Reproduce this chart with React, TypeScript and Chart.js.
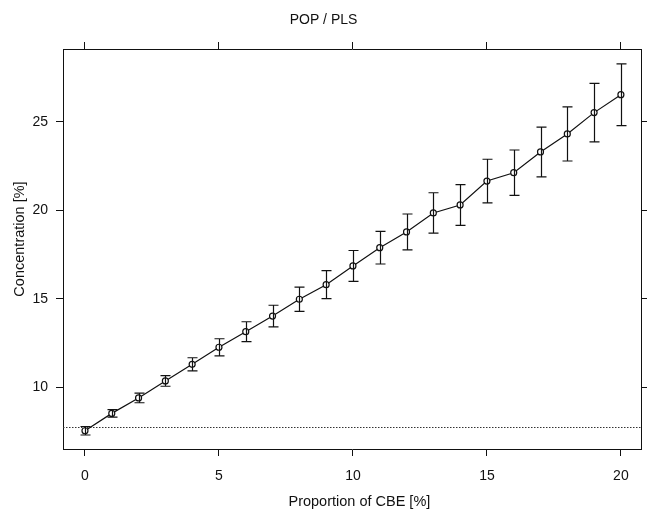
import React, { useEffect, useRef } from 'react';
import { Chart, registerables } from 'chart.js';

Chart.register(...registerables);

const proportions = [0, 1, 2, 3, 4, 5, 6, 7, 8, 9, 10, 11, 12, 13, 14, 15, 16, 17, 18, 19, 20];
const concentration = [7.56, 8.54, 9.41, 10.37, 11.31, 12.27, 13.15, 14.03, 14.98, 15.8, 16.86, 17.89, 18.78, 19.85, 20.3, 21.65, 22.12, 23.29, 24.31, 25.51, 26.52];
const errorHalf = [0.24, 0.21, 0.27, 0.3, 0.37, 0.48, 0.56, 0.61, 0.68, 0.79, 0.87, 0.92, 1.01, 1.14, 1.15, 1.23, 1.28, 1.4, 1.53, 1.65, 1.74];
const referenceLevel = 7.79;
const xTicks = [0, 5, 10, 15, 20];
const yTicks = [10, 15, 20, 25];
const xTitle = 'Proportion of CBE [%]';
const yTitle = 'Concentration [%]';
const mainTitle = 'POP / PLS';

const FAMILY = '"Liberation Sans", Arial, Helvetica, sans-serif';
const FONT = { family: FAMILY, size: 14, weight: 'normal' as const };
const INK = '#111';

const errorBarPlugin = {
  id: 'errorBars',
  beforeDatasetsDraw(chart: any) {
    const { ctx, chartArea, scales } = chart;
    const y = scales.y.getPixelForValue(referenceLevel);
    ctx.save();
    ctx.strokeStyle = '#333';
    ctx.lineWidth = 1;
    ctx.setLineDash([1.5, 1.5]);
    ctx.beginPath();
    ctx.moveTo(chartArea.left, Math.round(y) + 0.5);
    ctx.lineTo(chartArea.right, Math.round(y) + 0.5);
    ctx.stroke();
    ctx.restore();
  },
  afterDatasetsDraw(chart: any) {
    const { ctx, scales } = chart;
    ctx.save();
    ctx.strokeStyle = INK;
    ctx.lineWidth = 1.2;
    ctx.setLineDash([]);
    proportions.forEach((p, i) => {
      const x = Math.round(scales.x.getPixelForValue(p)) + 0.5;
      const yHi = scales.y.getPixelForValue(concentration[i] + errorHalf[i]);
      const yLo = scales.y.getPixelForValue(concentration[i] - errorHalf[i]);
      ctx.beginPath();
      ctx.moveTo(x, yHi);
      ctx.lineTo(x, yLo);
      ctx.moveTo(x - 5, yHi);
      ctx.lineTo(x + 5, yHi);
      ctx.moveTo(x - 5, yLo);
      ctx.lineTo(x + 5, yLo);
      ctx.stroke();
    });
    ctx.restore();
  },
};

const axisTitlePlugin = {
  id: 'axisTitles',
  afterDraw(chart: any) {
    const { ctx, chartArea } = chart;
    ctx.save();
    ctx.fillStyle = INK;
    ctx.font = `14.5px ${FAMILY}`;
    ctx.textAlign = 'center';
    ctx.textBaseline = 'middle';
    const cx = (chartArea.left + chartArea.right) / 2;
    ctx.fillText(xTitle, cx + 7, chartArea.bottom + 53);
    const cy = (chartArea.top + chartArea.bottom) / 2;
    ctx.translate(20, cy - 10);
    ctx.rotate(-Math.PI / 2);
    ctx.fillText(yTitle, 0, 0);
    ctx.restore();
  },
};

const gridOpts = {
  drawOnChartArea: false,
  drawTicks: true,
  tickLength: 7,
  tickColor: INK,
  tickWidth: 1,
};
const borderOpts = { display: true, color: INK, width: 1 };

export default function App() {
  const canvasRef = useRef<HTMLCanvasElement | null>(null);

  useEffect(() => {
    document.body.style.margin = '0';
    const canvas = canvasRef.current;
    if (!canvas) return;
    const setX = (s: any) => {
      s.ticks = xTicks.map((v) => ({ value: v }));
    };
    const setY = (s: any) => {
      s.ticks = yTicks.map((v) => ({ value: v }));
    };
    const chart = new Chart(canvas, {
      type: 'line',
      data: {
        datasets: [
          {
            data: proportions.map((p, i) => ({ x: p, y: concentration[i] })),
            borderColor: INK,
            borderWidth: 1.2,
            pointRadius: 3,
            pointBorderWidth: 1.2,
            pointBackgroundColor: '#fff',
            pointBorderColor: INK,
            tension: 0,
            fill: false,
          },
        ],
      },
      options: {
        animation: false,
        responsive: false,
        maintainAspectRatio: false,
        layout: { padding: 0 },
        plugins: {
          legend: { display: false },
          tooltip: { enabled: false },
          title: {
            display: true,
            text: mainTitle,
            color: INK,
            font: FONT,
            padding: { top: 12, bottom: 5 },
          },
        },
        scales: {
          x: {
            type: 'linear',
            position: 'bottom',
            min: -0.82,
            max: 20.78,
            afterBuildTicks: setX,
            afterFit: (s: any) => {
              s.height = 61;
            },
            grid: gridOpts,
            border: borderOpts,
            ticks: { color: INK, font: FONT, padding: 12, maxRotation: 0, autoSkip: false },
          },
          x2: {
            type: 'linear',
            position: 'top',
            min: -0.82,
            max: 20.78,
            afterBuildTicks: setX,
            afterFit: (s: any) => {
              s.height = 15.2;
            },
            grid: gridOpts,
            border: borderOpts,
            ticks: { display: false },
          },
          y: {
            type: 'linear',
            position: 'left',
            min: 6.53,
            max: 29.1,
            afterBuildTicks: setY,
            afterFit: (s: any) => {
              s.width = 63;
            },
            grid: gridOpts,
            border: borderOpts,
            ticks: { color: INK, font: FONT, padding: 8 },
          },
          y2: {
            type: 'linear',
            position: 'right',
            min: 6.53,
            max: 29.1,
            afterBuildTicks: setY,
            afterFit: (s: any) => {
              s.width = 2;
            },
            grid: gridOpts,
            border: borderOpts,
            ticks: { display: false },
          },
        },
      } as any,
      plugins: [errorBarPlugin, axisTitlePlugin],
    });
    return () => chart.destroy();
  }, []);

  return (
    <div style={{ position: 'absolute', left: 0, top: 0, width: 647, height: 510 }}>
      <canvas ref={canvasRef} width={647} height={510} style={{ display: 'block' }} />
    </div>
  );
}
